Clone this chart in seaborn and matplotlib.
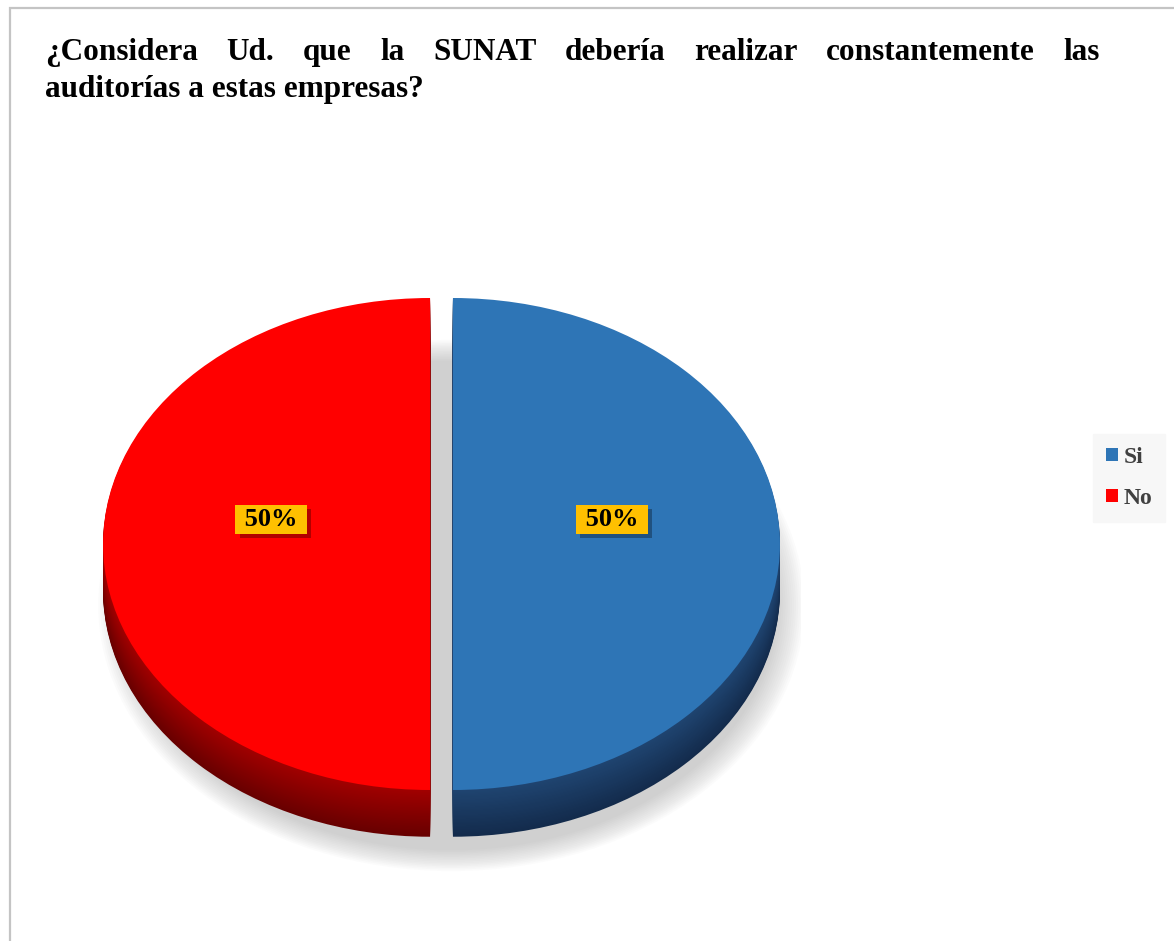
import numpy as np
import matplotlib.pyplot as plt
import matplotlib.patheffects as pe
from matplotlib.patches import Ellipse, Rectangle
from matplotlib.colors import to_rgb
import seaborn as sns

# ---- datos ----
categorias = ["Si", "No"]
porcentajes = [50, 50]
colores_cara = ["#2E75B6", "#FF0000"]
colores_lado_arriba = ["#1F4470", "#A00000"]
colores_lado_abajo = ["#132B4C", "#680000"]
titulo_l1 = "¿Considera Ud. que la SUNAT debería realizar constantemente las"
titulo_l2 = "auditorías a estas empresas?"

sns.set_style("white")
plt.rcParams["font.family"] = ["Liberation Serif", "DejaVu Serif"]

W, H = 1174, 941
fig = plt.figure(figsize=(W / 100, H / 100), dpi=100)
fig.patch.set_facecolor("white")

# geometry of the (squashed) pie, in pixels
cx, cy = 441.5, 544
rx, ry = 327, 246
x0, x1 = -1.1, 1.1
y0, y1 = -1.4, 1.2
ax = fig.add_axes([(cx + x0 * rx) / W, (H - (cy - y0 * ry)) / H,
                   (x1 - x0) * rx / W, (y1 - y0) * ry / H])

# soft shadow under the pie
for k in range(14):
    s = 1 - k * 0.006
    ax.add_patch(Ellipse((0.03, -0.25), 2 * 1.08 * s, 2 * 1.08 * s,
                         facecolor="#808080", alpha=0.028, lw=0))

explode = [0.035, 0.035]


def mix(c1, c2, t):
    a, b = np.array(to_rgb(c1)), np.array(to_rgb(c2))
    return tuple(a + (b - a) * t)


# side of the 3d pie: stacked layers
depth = 0.19
n = 40
for i, d in enumerate(np.linspace(depth, 0.005, n)):
    t = i / (n - 1)
    cols = [mix(lo, hi, t) for lo, hi in zip(colores_lado_abajo, colores_lado_arriba)]
    ax.pie(porcentajes, colors=cols, startangle=90, counterclock=False,
           explode=explode, center=(0, -d), wedgeprops=dict(linewidth=0))

# top face
wedges, _, autotexts = ax.pie(
    porcentajes, colors=colores_cara, startangle=90, counterclock=False,
    explode=explode, autopct=" %1.0f%% ", pctdistance=0.486,
    wedgeprops=dict(linewidth=0),
    textprops=dict(fontsize=19, fontweight="bold", color="black"))

for t in autotexts:
    x, y = t.get_position()
    t.set_position((x, 0.1))
    t.set_bbox(dict(boxstyle="square,pad=0.1", facecolor="#FFC000", edgecolor="none"))
    t.get_bbox_patch().set_path_effects(
        [pe.withSimplePatchShadow(offset=(3, -3), shadow_rgbFace="black", alpha=0.3)])

ax.set_aspect("auto")
ax.set_xlim(x0, x1)
ax.set_ylim(y0, y1)
ax.axis("off")

# legend
fig.legend(wedges, categorias, loc="center left",
           bbox_to_anchor=(1093 / W, 1 - 478 / H), borderaxespad=0,
           frameon=True, fancybox=False, facecolor="#f7f7f7", edgecolor="#f7f7f7",
           framealpha=1, prop=dict(family="Liberation Serif", weight="bold", size=17),
           labelcolor="#404040", handlelength=0.51, handleheight=0.51,
           handletextpad=0.22, labelspacing=0.85, borderpad=0.55)

# title, first line justified
fs = 22.5
renderer = fig.canvas.get_renderer()
palabras = titulo_l1.split()
objs = [fig.text(0, 1 - 60 / H, w, fontsize=fs, fontweight="bold", color="black")
        for w in palabras]
anchos = [o.get_window_extent(renderer).width for o in objs]
gap = (1100 - 45 - sum(anchos)) / (len(palabras) - 1)
xp = 45
for o, w in zip(objs, anchos):
    o.set_x(xp / W)
    xp += w + gap
fig.text(45 / W, 1 - 97 / H, titulo_l2, fontsize=fs, fontweight="bold", color="black")

# outer frame
fig.add_artist(Rectangle((10 / W, -0.1), 2.0, (1 - 8 / H) + 0.1,
                         transform=fig.transFigure, fill=False,
                         edgecolor="#c4c4c4", lw=1.6))

fig.savefig("out.png", dpi=100)
